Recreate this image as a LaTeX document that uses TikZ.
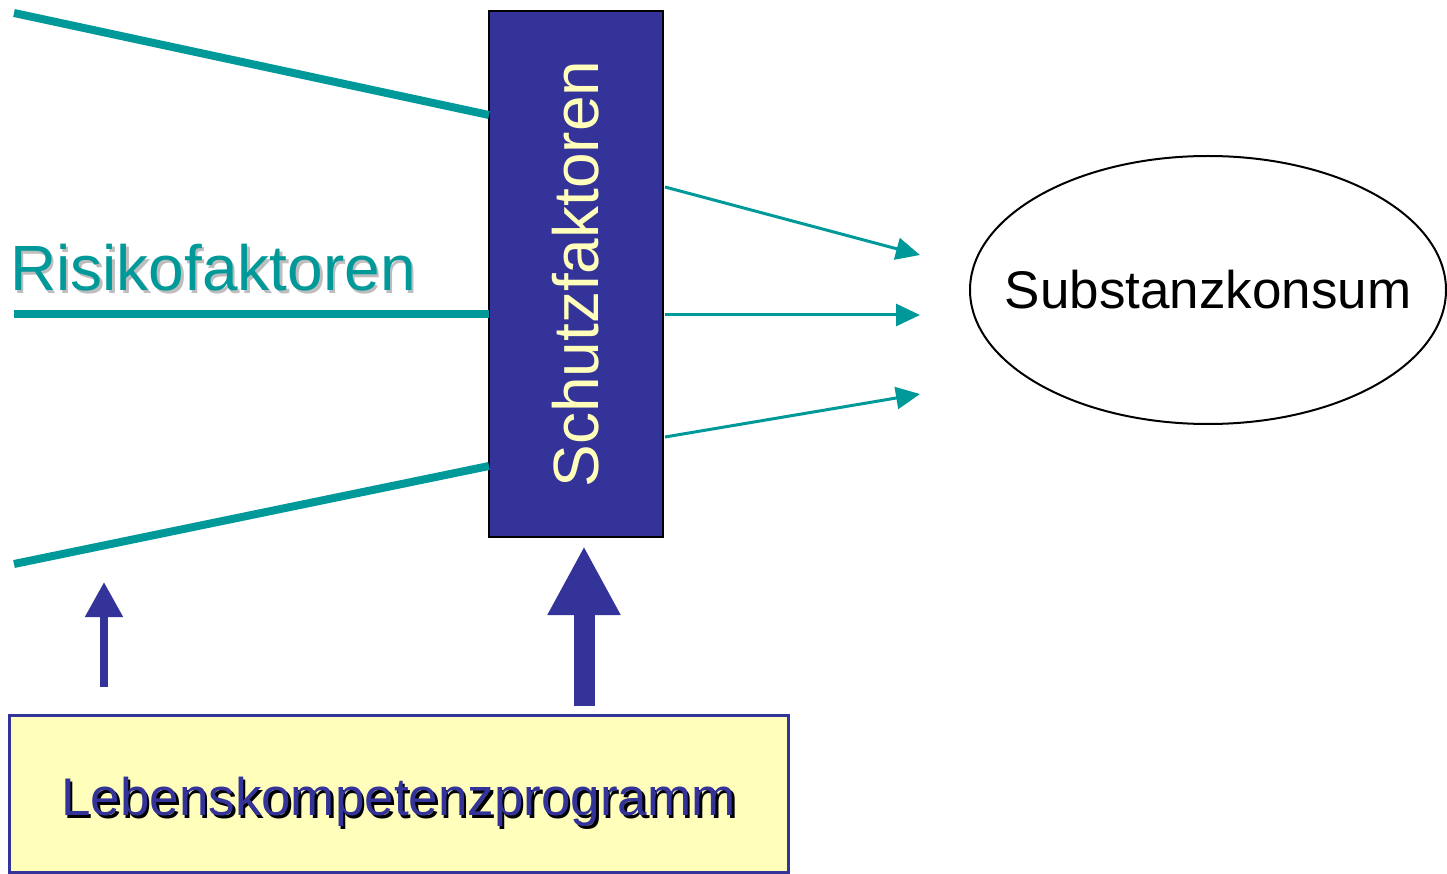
\documentclass[tikz,border=0pt]{standalone}
\usepackage{fontspec}
\setmainfont{Liberation Sans}
\usetikzlibrary{positioning, arrows.meta, shapes.geometric}
\definecolor{risikoteal}{HTML}{009999}
\definecolor{schutzblau}{HTML}{333399}
\definecolor{hellgelb}{HTML}{FFFFBB}
\definecolor{schatten}{HTML}{BDBDBD}
% text with a small drop shadow
\newcommand{\schattentext}[3]{\makebox[0pt][l]{\hspace{2.5pt}\raisebox{-2.5pt}{\color{#2}#3}}{\color{#1}#3}}

\begin{document}
\begin{tikzpicture}[
    x=1pt, y=-1pt,
    faktor/.style={draw=risikoteal, line width=8pt},
    pfeil/.style={draw=risikoteal, line width=3pt, -{Triangle[width=22pt, length=24pt]}},
    hebel/.style={draw=schutzblau, -{Triangle[width=#1]}},
    grosstext/.style={font=\fontsize{64}{70}\selectfont, inner sep=0pt}
]
    \useasboundingbox (0,0) rectangle (1447,874);

    \node[draw=black, line width=2pt, fill=schutzblau, minimum width=174pt, minimum height=526pt, grosstext] (schutz) at (576,274) {\rotatebox{90}{\color{hellgelb}Schutzfaktoren}};
    \node[ellipse, draw, line width=2pt, minimum width=476pt, minimum height=268pt, inner sep=0pt, font=\fontsize{53}{60}\selectfont] (konsum) at (1208,290) {\makebox[0pt]{Substanzkonsum}};
    \node[draw=schutzblau, line width=3pt, fill=hellgelb, minimum width=779pt, minimum height=157pt, inner sep=0pt, text height=55pt, text depth=11pt, font=\fontsize{53}{60}\selectfont] (programm) at (398.5,793.5) {\schattentext{schutzblau}{black}{Lebenskompetenzprogramm}};
    \node[grosstext, anchor=base west] (risiko) at (10,291) {\schattentext{risikoteal}{schatten}{Risikofaktoren}};

    % Risikofaktoren
    \coordinate (r1) at (14,13);
    \coordinate (r2) at (14,314);
    \coordinate (r3) at (14,564);
    \coordinate (s1) at (489,115);
    \coordinate (s2) at (489,314);
    \coordinate (s3) at (489,466);
    \draw[faktor] (r1) -- (s1);
    \draw[faktor] (r2) -- (s2);
    \draw[faktor] (r3) -- (s3);

    % Wirkung auf den Konsum
    \coordinate (a1) at (665,187);
    \coordinate (a2) at (665,315);
    \coordinate (a3) at (665,437);
    \coordinate (k1) at (920,255);
    \coordinate (k2) at (920,315);
    \coordinate (k3) at (920,394);
    \draw[pfeil] (a1) -- (k1);
    \draw[pfeil] (a2) -- (k2);
    \draw[pfeil] (a3) -- (k3);

    % Programm wirkt auf beide
    \coordinate (p1) at (104,687);
    \coordinate (q1) at (104,582);
    \coordinate (p2) at (584,706);
    \coordinate (q2) at (584,546);
    \draw[hebel={36pt}, line width=8pt, -{Triangle[width=36pt, length=35pt]}] (p1) -- (q1);
    \draw[hebel={68pt}, line width=21pt, -{Triangle[width=68pt, length=69pt]}] (p2) -- (q2);
\end{tikzpicture}
\end{document}
